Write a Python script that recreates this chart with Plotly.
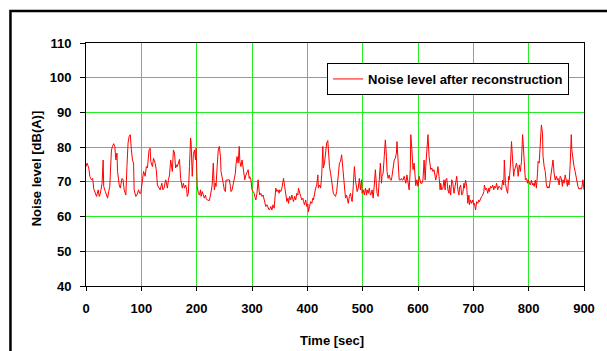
import plotly.graph_objects as go

# ---- data (time in s, level in dB(A)) ----
time_a = [0,2,5,7,10,12,14,17,19,22,24,26,29,31,32,35,37,39,41,43,44,46,48,50,52,54,56,57,60,62,65,67,69,72,74,76,78,80,82,84,86,87,90,92,95,97,99,102,104,107,109,111,114,116,117,120,122,125,127,129,132,134,137,139,141,144,146]
level_a = [74.4,75.4,74,71.5,70.6,71,68,66.2,65.8,67.7,65.8,66.7,69.6,76.3,68.7,67.2,66.2,65.3,67.2,68.7,72.5,79.2,80.2,81,80.2,76.3,78.3,73,69.1,68.2,71,70.6,67.7,66.2,74.4,81.2,83.1,83.6,79.2,76.3,75.4,67.7,65.8,66.2,67.7,66.7,66.7,70.6,73,71.6,74.4,74,79.2,79.7,75.9,74.4,76.8,75.4,73.5,69.1,68.2,67.7,69.6,67.7,68.2,70.6,69.1]

time_b = [147,149,151,153,155,156,158,160,162,164,165,167,169,171,173,174,176,178,180,182,183,185,187,189,190,192,194,196,198,199,201,203,205,207,208,210,212,214,216,217,219,221,223,225,226,228,230,232,234,235,237,239,241,243,244,246,248,250,252,253,255,257,259,261,262,264,266,268,270,271,273,275,277,278,280,282,284,286,287,289,291,293,295]
level_b = [68.2,70.6,72,76.3,74.4,73,79.2,78.3,74,74.9,74.4,75.9,76.5,71,68.7,68.2,69.6,68.2,69.1,67.7,65.8,66.7,74.4,82.6,81.2,71.6,77.8,79.2,76.3,79.7,68.7,66.7,66.2,67.7,65.8,67.2,65.8,65.3,66.2,65.3,64.8,64.8,64.6,66.2,67.2,69.1,75.4,67.7,69.6,68.7,74.4,79.2,80.2,77.3,73,71.6,69.6,67.7,67.2,70.5,70.6,70.5,70.6,68.7,67.2,67.7,69.6,70.5,72.5,74.9,77.3,75.4,80.2,75.9,74.4,76.3,74,73,70.6,72,73,73.5,71]

time_c = [296,298,300,302,304,305,307,309,311,313,314,316,318,320,322,323,325,327,329,331,332,334,336,338,340,341,343,345,347,349,350,352,354,356,357,359,361,363,365,366,368,370,372,374,375,377,379,381,383,384,386,388,390,392,393,395,397,399,401,402,404,406,408,410,411,413,415,417,419,420,422,424,426,428,429,431,433,435,437,438,440,442,444,446]
level_c = [71.5,70.6,67.7,67.2,66.7,65.8,64.8,66.7,70.6,67.2,66.2,66.7,65.8,66.2,64.8,63.8,62.9,63.4,62.4,61.9,62.1,62.9,61.9,63.4,62.4,64.8,68.2,67.2,67.7,66.7,67.7,67.2,68.2,70.1,71,68.7,65.8,64.3,65.3,63.8,65.8,64.8,66.2,64.8,64.3,65.8,64.8,66.7,66.2,68.2,66.7,65.8,64.8,65.3,64.3,63.4,64.8,62.9,63.6,61.4,62.9,64.3,63.8,65.3,64.8,66.7,68.2,69.1,72,68.2,69.1,68.2,72,80.2,74,75.4,79.7,81.2,81.9,79.2,74.4,72.5,69.6,67.7]

time_d = [447,449,451,453,455,456,458,460,462,464,465,467,469,471,473,474,476,478,480,481,483,485,487,489,490,492,494,496,498,499,501,503,505,507,508,510,512,514,516,517,519,521,523,525,526,528,530,532,534,535,537,539,541,543,544,546,548,550,552,553,555,557,559,561,562,564,566,568,570,571,573,575,577,578,580,582,584,586,587,589,591,593,595]
level_d = [66.7,66.2,65.8,67.2,69.6,72,75.4,75.9,77.8,74.4,73,68.7,65.3,66.2,64.3,63.8,65.8,66.7,64.8,64.3,68.7,74.4,70.5,67.7,67.2,68.2,71,67.7,70.6,66.7,67.7,66.2,68.2,66.2,67.7,66.7,68.2,66.2,66.7,67.7,65.3,69.1,73.5,68.7,66.7,65.8,70.5,75.4,69.6,71.6,72.5,78.3,82.1,77.3,73,71,72,70.6,70.5,71.6,74.4,76.3,76.8,78.3,81.6,77.3,70.6,70.5,71,70.6,70.5,71.6,70.6,69.6,72,69.1,67.7,73.5,83.6,79.2,73.5,75.4,69.6]

time_e = [596,598,600,602,604,605,607,609,611,613,614,616,618,620,622,623,625,627,629,631,632,634,636,638,640,641,643,645,647,649,650,652,654,656,657,659,661,663,665,666,668,670,672,674,675,677,679,681,683,684,686,688,690,692,693,695,697,699,701,702,704,706,708,710,711,713,715,717,719,720,722,724,726,728,729,731,733,735,737,738,740,742,744,746]
level_e = [68.9,70.6,68.7,71.6,70.5,69.6,69.6,70.6,76.3,70.5,74.4,78.3,83.6,77.3,74,73.5,74,73,73.5,71.6,70.5,72,74.4,71.6,67.7,69.6,67.7,68.2,70.6,67.7,70.5,71,67.7,66.7,69.1,66.2,70.6,69.6,66.7,67.7,70.6,71.6,67.7,66.2,68.2,69.1,66.2,66.7,69.6,68.2,70.5,68.7,63.8,66.2,63.4,64.8,63.8,64.8,63.4,63.8,61.9,64.3,63.8,64.8,64.3,65.3,65.8,66.2,67.2,69.1,67.7,68.2,66.7,68.2,67.2,68.7,68.2,69.1,67.7,68.7,68.2,69.6,67.7,68.7]

time_f = [747,749,751,753,755,756,758,760,762,764,765,767,769,771,773,774,776,778,780,781,783,785,787,789,790,792,794,796,798,799,801,803,805,807,808,810,812,814,816,817,819,821,823,825,826,828,830,832,834,835,837,839,841,843,844,846,848,850,852,853,855,857,859,861,862,864,866,868,870,871,873,875,877,878,880,882,884,886,887,889,891,893,895,896,898,900]
level_f = [68.7,68.2,67.7,70.5,69.1,76.3,69.6,67.7,66.7,71.6,70.6,74.9,81.6,76.3,71.6,73,74.4,75.4,73.5,71.6,74.9,73,75.9,83.6,81.2,73.5,70.6,71,69.6,70.6,69.6,69.1,70.5,69.1,69.6,68.7,70.5,68.2,72.5,75.9,75.4,83.1,86.4,84,77.3,74.4,73,69.1,68.2,68.7,68.2,70.5,73,75.9,76.3,72.5,70.5,71.6,70.5,71,69.1,71.6,71,68.7,70.6,69.6,72,70.5,68.7,70.6,69.1,74.9,83.6,79.2,76.3,74.4,73,71,70.5,68.7,67.9,68.2,67.9,68.2,70.6,67.7]

x_ticks = [0, 100, 200, 300, 400, 500, 600, 700, 800, 900]
y_ticks = [40, 50, 60, 70, 80, 90, 100, 110]
series_name = "Noise level after reconstruction"
x_title = "Time [sec]"
y_title = "Noise level [dB(A)]"

times = time_a + time_b + time_c + time_d + time_e + time_f
levels = level_a + level_b + level_c + level_d + level_e + level_f
assert len(times) == len(levels), (len(times), len(levels))

FONT = "Liberation Sans, Arial, sans-serif"
GREEN = "#22ee22"

fig = go.Figure()
fig.add_trace(go.Scatter(
    x=times, y=levels, mode="lines", name=series_name,
    line=dict(color="#ff0000", width=1), showlegend=True,
))

W, H = 607, 351
L, R, T, B = 86, 20, 43, 65
pw, ph = W - L - R, H - T - B

axis_font = dict(family=FONT, size=13, color="black", weight="bold")
fig.update_layout(
    width=W, height=H,
    margin=dict(l=L, r=R, t=T, b=B, pad=0),
    paper_bgcolor="white", plot_bgcolor="white",
    font=dict(family=FONT, size=13, color="black"),
    showlegend=True,
    legend=dict(
        x=(572 - L) / pw, y=(H - B - 63) / ph, xanchor="right", yanchor="top",
        bgcolor="white", bordercolor="black", borderwidth=1,
        font=dict(family=FONT, size=13, color="black", weight="bold"),
        itemwidth=30, tracegroupgap=0,
    ),
    xaxis=dict(
        range=[0, 900], tickvals=x_ticks, ticktext=[str(v) for v in x_ticks],
        showgrid=True, gridcolor=GREEN, gridwidth=1,
        showline=True, linecolor="black", linewidth=1, mirror=True,
        ticks="outside", ticklen=4, tickcolor="black", tickwidth=1,
        tickfont=axis_font, zeroline=False, ticklabelstandoff=6,
    ),
    yaxis=dict(
        range=[40, 110], tickvals=y_ticks, ticktext=[str(v) for v in y_ticks],
        showgrid=True, gridcolor=GREEN, gridwidth=1,
        showline=True, linecolor="black", linewidth=1, mirror=True,
        ticks="outside", ticklen=5, tickcolor="black", tickwidth=1,
        tickfont=axis_font, zeroline=False, ticklabelstandoff=6,
    ),
    annotations=[
        dict(text=y_title, xref="paper", yref="paper",
             x=(36 - L) / pw, y=(H - B - 168) / ph, textangle=-90,
             showarrow=False, xanchor="center", yanchor="middle",
             font=dict(family=FONT, size=13, color="black", weight="bold")),
        dict(text=x_title, xref="paper", yref="paper",
             x=(333 - L) / pw, y=(H - B - 340) / ph,
             showarrow=False, xanchor="center", yanchor="middle",
             font=dict(family=FONT, size=13, color="black", weight="bold")),
    ],
    shapes=[
        dict(type="rect", xref="paper", yref="paper",
             x0=(10 - L) / pw, x1=(630 - L) / pw,
             y0=(H - B - 380) / ph, y1=(H - B - 11) / ph,
             line=dict(color="black", width=2.5), fillcolor="rgba(0,0,0,0)",
             layer="above"),
    ],
)

fig.write_html("out.html")
